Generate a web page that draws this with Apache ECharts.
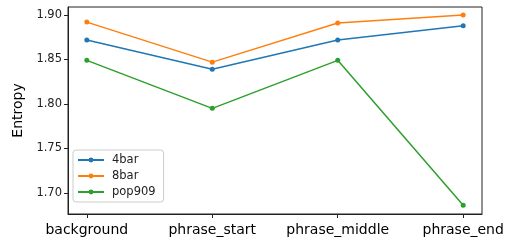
<!DOCTYPE html>
<html><head><meta charset="utf-8">
<script src="https://cdn.jsdelivr.net/npm/echarts@6/dist/echarts.min.js"></script>
<style>html,body{margin:0;padding:0;background:#fff}#c{width:511px;height:241px}</style>
</head><body><div id="c"></div>
<script>
const categories = ['background', 'phrase_start', 'phrase_middle', 'phrase_end'];
const seriesNames = ['4bar', '8bar', 'pop909'];
const values4bar = [1.872, 1.839, 1.872, 1.888];
const values8bar = [1.892, 1.847, 1.891, 1.900];
const valuesPop909 = [1.849, 1.795, 1.849, 1.686];
const yTicks = [1.70, 1.75, 1.80, 1.85, 1.90];
const colors = ['#1f77b4', '#ff7f0e', '#2ca02c'];

const font = 'DejaVu Sans';
const allVals = [values4bar, values8bar, valuesPop909];
const chart = echarts.init(document.getElementById('c'), null, {renderer: 'canvas'});
chart.setOption({
  animation: false,
  textStyle: {fontFamily: font},
  grid: {left: 68, right: 29, top: 7, bottom: 27, show: true, borderColor: '#222', borderWidth: 1, backgroundColor: 'transparent'},
  xAxis: {
    type: 'value', min: -0.15, max: 3.15,
    splitLine: {show: false},
    axisLine: {show: true, onZero: false, lineStyle: {color: '#222'}},
    axisTick: {show: true, length: 4, lineStyle: {color: '#222'}, customValues: [0, 1, 2, 3]},
    axisLabel: {customValues: [0, 1, 2, 3], formatter: v => categories[Math.round(v)], color: '#000', fontSize: 14, margin: 9, fontFamily: font}
  },
  yAxis: {
    type: 'value', min: 1.6762, max: 1.909,
    name: 'Entropy', nameLocation: 'middle', nameGap: 40, nameRotate: 90,
    nameTextStyle: {fontSize: 14, color: '#000', fontFamily: font},
    splitLine: {show: false},
    axisLine: {show: true, onZero: false, lineStyle: {color: '#222'}},
    axisTick: {show: true, length: 4, lineStyle: {color: '#222'}, customValues: yTicks},
    axisLabel: {customValues: yTicks, formatter: v => v.toFixed(2), color: '#222', fontSize: 11.5, margin: 6, fontFamily: font}
  },
  legend: {
    orient: 'vertical', left: 73, top: 150,
    data: seriesNames,
    itemWidth: 26, itemHeight: 6, itemGap: 4,
    padding: [4, 8, 4, 4],
    borderColor: '#ccc', borderWidth: 1, borderRadius: 3,
    backgroundColor: '#fff',
    textStyle: {fontSize: 11.5, color: '#222', fontFamily: font, padding: [0, 0, 0, 3]}
  },
  series: seriesNames.map((n, i) => ({
    name: n, type: 'line',
    data: allVals[i].map((v, j) => [j, v]),
    symbol: 'circle', symbolSize: 5, showSymbol: true,
    lineStyle: {width: 1.5, color: colors[i]},
    itemStyle: {color: colors[i]},
    z: 2 + i
  }))
});
</script></body></html>
